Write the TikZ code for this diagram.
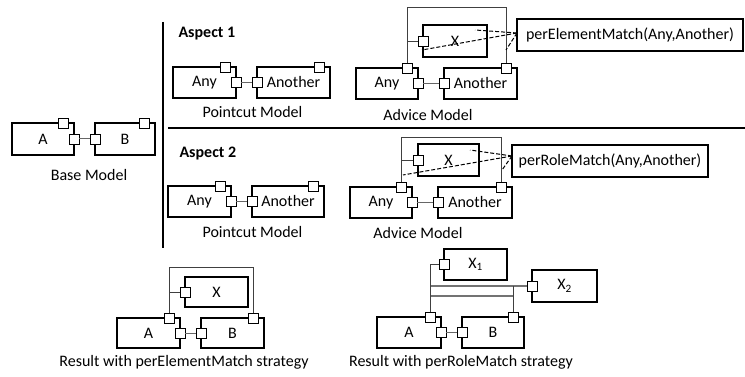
\documentclass[tikz,border=0pt]{standalone}
\usepackage{fontspec}
\setmainfont{Carlito}
\usetikzlibrary{calc}

\begin{document}
\begin{tikzpicture}[x=1pt,y=-1pt,
    comp/.style={draw,line width=1.5pt,inner sep=0pt,outer sep=0pt,minimum height=31pt,font=\fontsize{16}{19}\selectfont},
    port/.style={draw,fill=white,line width=0.8pt,inner sep=0pt,outer sep=0pt,minimum size=10pt},
    wire/.style={draw=black!75,line width=0.9pt},
    link/.style={draw=black!60,line width=1pt},
    trace/.style={draw=black,line width=1pt,dash pattern=on 4pt off 2pt},
    sep/.style={draw=black,line width=2.5pt},
    lbl/.style={font=\fontsize{16}{19}\selectfont},
    aspect/.style={font=\fontsize{16}{19}\selectfont\bfseries,anchor=west}]

    \useasboundingbox (0,0) rectangle (745,377);

    % Separators
    \draw[sep] (163,22) -- (163,248);
    \draw[sep] (168,128) -- (745,128);

    % Base model
    \node[comp,minimum width=62pt,minimum height=32pt] (bA) at (43,139) {A};
    \node[comp,minimum width=60pt,minimum height=32pt] (bB) at (125,139) {B};
    \node[lbl] (bLbl) at (89,175) {Base Model};

    % Aspect 1
    \node[aspect] (asp1) at (175,34) {Aspect 1};
    \node[comp,minimum width=63pt] (p1Any) at (204.5,82.5) {Any};
    \node[comp,minimum width=73pt] (p1Ano) at (293.5,82.5) {Another};
    \node[lbl] (p1Lbl) at (252.5,112) {Pointcut Model};

    \node[comp,minimum width=62pt] (a1Any) at (387,83.5) {Any};
    \node[comp,minimum width=73pt] (a1Ano) at (480.5,83.5) {Another};
    \node[comp,minimum width=64pt,minimum height=32pt] (a1X) at (455,41) {X};
    \node[comp,minimum width=226pt,minimum height=32pt] (a1M) at (630,35) {perElementMatch(Any,Another)};
    \node[lbl] (a1Lbl) at (428,115) {Advice Model};

    % Aspect 2
    \node[aspect] (asp2) at (176,154) {Aspect 2};
    \node[comp,minimum width=63pt] (p2Any) at (199.5,201.5) {Any};
    \node[comp,minimum width=72pt] (p2Ano) at (288,201.5) {Another};
    \node[lbl] (p2Lbl) at (252.5,232) {Pointcut Model};

    \node[comp,minimum width=62pt] (a2Any) at (381,202.5) {Any};
    \node[comp,minimum width=74pt] (a2Ano) at (475,202.5) {Another};
    \node[comp,minimum width=61pt,minimum height=32pt] (a2X) at (448.5,160) {X};
    \node[comp,minimum width=196pt,minimum height=32pt] (a2M) at (610,161) {perRoleMatch(Any,Another)};
    \node[lbl] (a2Lbl) at (418,233) {Advice Model};

    % Results
    \node[comp,minimum width=63pt,minimum height=30pt] (r1A) at (148.5,333) {A};
    \node[comp,minimum width=63pt,minimum height=30pt] (r1B) at (232.5,333) {B};
    \node[comp,minimum width=63pt,minimum height=30pt] (r1X) at (216.5,292) {X};
    \node[lbl] (r1Lbl) at (184,362) {Result with perElementMatch strategy};

    \node[comp,minimum width=64pt] (r2A) at (409,332.5) {A};
    \node[comp,minimum width=62pt] (r2B) at (493,332.5) {B};
    \node[comp,minimum width=63pt] (r2X1) at (475.5,264.5) {X\textsubscript{1}};
    \node[comp,minimum width=65pt,minimum height=32pt] (r2X2) at (564.5,286) {X\textsubscript{2}};
    \node[lbl] (r2Lbl) at (461,362) {Result with perRoleMatch strategy};

    % Ports
    \foreach \b in {bA,p1Any,a1Any,p2Any,a2Any,r1A,r2A} {
        \node[port] (\b-t) at ([xshift=-10.5pt]\b.north east) {};
        \node[port] (\b-r) at (\b.east) {};
    }
    \foreach \b in {bB,p1Ano,a1Ano,p2Ano,a2Ano,r1B,r2B} {
        \node[port] (\b-t) at ([xshift=-10.5pt]\b.north east) {};
        \node[port] (\b-l) at (\b.west) {};
    }
    \foreach \b in {a1X,a2X,r1X,r2X1,r2X2}
        \node[port] (\b-l) at (\b.west) {};

    % Port links
    \draw[link] (bA-r) -- (bB-l);
    \draw[link] (p1Any-r) -- (p1Ano-l);
    \draw[link] (a1Any-r) -- (a1Ano-l);
    \draw[link] (p2Any-r) -- (p2Ano-l);
    \draw[link] (a2Any-r) -- (a2Ano-l);
    \draw[link] (r1A-r) -- (r1B-l);
    \draw[link] (r2A-r) -- (r2B-l);

    % Advice frames
    \coordinate (a1top) at (0,7);
    \draw[wire] (a1Any-t.north) -- (a1Any-t.north |- a1top) -| (a1Ano-t.north);
    \draw[wire] (a1Any-t.north |- a1X-l) -- (a1X-l.west);
    \coordinate (a2top) at (0,137);
    \draw[wire] (a2Any-t.north) -- (a2Any-t.north |- a2top) -| (a2Ano-t.north);
    \draw[wire] (a2Any-t.north |- a2X-l) -- (a2X-l.west);

    % Match traces
    \coordinate (a1src) at ([yshift=2pt]a1M.west);
    \coordinate (a1d1) at (475,30);
    \coordinate (a1d2) at (422,50);
    \coordinate (a1d3) at (506,50);
    \foreach \d in {a1d1,a1d2,a1d3}
        \draw[trace] (a1src) -- (\d);
    \coordinate (a2src) at ([yshift=5pt]a2M.west);
    \coordinate (a2d1) at (470,150);
    \coordinate (a2d2) at (403,175);
    \coordinate (a2d3) at (502,170);
    \foreach \d in {a2d1,a2d2,a2d3}
        \draw[trace] (a2src) -- (\d);

    % Result frames
    \coordinate (r1top) at (0,267);
    \draw[wire] (r1A-t.north) -- (r1A-t.north |- r1top) -| (r1B-t.north);
    \draw[wire] (r1A-t.north |- r1X-l) -- (r1X-l.west);

    \coordinate (r2low) at (0,296);
    \draw[wire] (r2A-t.north) |- (r2X1-l.west);
    \draw[wire,draw=black!55,line width=1.4pt] (r2A-t.north |- r2X2-l) -- (r2X2-l.west);
    \draw[wire,draw=black!55,line width=1.4pt] (r2A-t.north |- r2low) -- (r2B-t.north |- r2low);
    \draw[wire] (r2B-t.north) -- (r2B-t.north |- r2X2-l);

\end{tikzpicture}
\end{document}
